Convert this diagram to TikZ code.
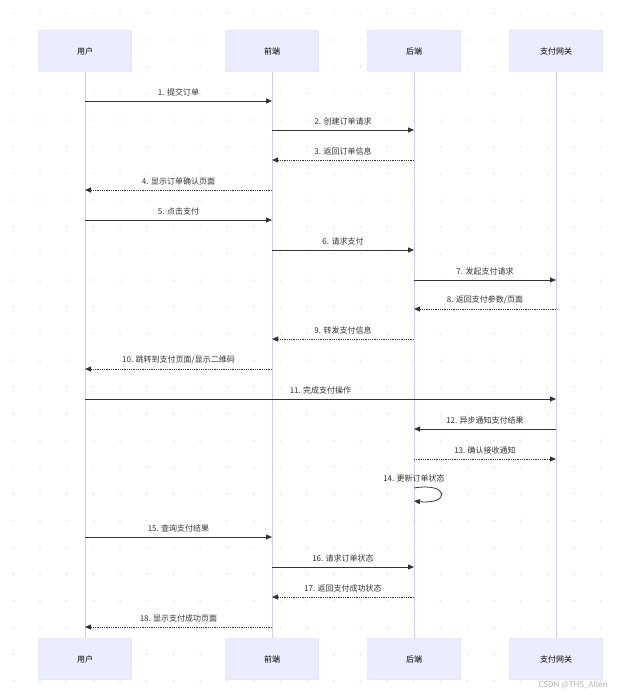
\documentclass[tikz,border=0pt]{standalone}
\usepackage{fontspec}
\setmainfont{Noto Sans CJK SC}
\usetikzlibrary{arrows.meta, positioning}
\definecolor{actfill}{HTML}{ECECFF}
\definecolor{actdraw}{HTML}{CFCFF5}
\definecolor{msgcol}{HTML}{333333}
\begin{document}
\begin{tikzpicture}[x=1pt, y=-1pt, >={Triangle[length=6pt,width=5pt]},
    actor/.style={rectangle, draw=actdraw, fill=actfill, rounded corners=1pt, minimum width=93pt, minimum height=41pt, font=\fontsize{8}{10}\selectfont},
    life/.style={draw=actdraw, thick},
    msg/.style={->, msgcol, thick},
    reply/.style={->, msgcol, thick, densely dotted},
    lbl/.style={font=\fontsize{8}{10}\selectfont, text=msgcol, above=1pt, midway}]

    \useasboundingbox (0,0) rectangle (623,695);
    \fill[white] (0,0) rectangle (623,695);
    % background dots
    \foreach \i in {0,...,23} \foreach \j in {0,...,26}
        \fill[gray!20] (13.3+26.7*\i, 13.3+26.7*\j) circle (1pt);

    % Actors
    \node (user) [actor] at (85,51) {用户};
    \node (front) [actor] at (272,51) {前端};
    \node (back) [actor] at (414,51) {后端};
    \node (gate) [actor] at (556,51) {支付网关};
    \node (user_b) [actor] at (85,659) {用户};
    \node (front_b) [actor] at (272,659) {前端};
    \node (back_b) [actor] at (414,659) {后端};
    \node (gate_b) [actor] at (556,659) {支付网关};

    % Lifelines
    \draw[life] (user) -- (user_b);
    \draw[life] (front) -- (front_b);
    \draw[life] (back) -- (back_b);
    \draw[life] (gate) -- (gate_b);

    % Messages
    \draw[msg] (85,101) -- (272,101) node[lbl] {1. 提交订单};
    \draw[msg] (272,130) -- (414,130) node[lbl] {2. 创建订单请求};
    \draw[reply] (414,160) -- (272,160) node[lbl] {3. 返回订单信息};
    \draw[reply] (272,190) -- (85,190) node[lbl] {4. 显示订单确认页面};
    \draw[msg] (85,220) -- (272,220) node[lbl] {5. 点击支付};
    \draw[msg] (272,250) -- (414,250) node[lbl] {6. 请求支付};
    \draw[msg] (414,280) -- (556,280) node[lbl] {7. 发起支付请求};
    \draw[reply] (556,309) -- (414,309) node[lbl] {8. 返回支付参数/页面};
    \draw[reply] (414,339) -- (272,339) node[lbl] {9. 转发支付信息};
    \draw[reply] (272,369) -- (85,369) node[lbl] {10. 跳转到支付页面/显示二维码};
    \draw[msg] (85,399) -- (556,399) node[lbl] {11. 完成支付操作};
    \draw[msg] (556,429) -- (414,429) node[lbl] {12. 异步通知支付结果};
    \draw[reply] (414,459) -- (556,459) node[lbl] {13. 确认接收通知};
    \node[font=\fontsize{8}{10}\selectfont, text=msgcol] (self_lbl) at (414,478) {14. 更新订单状态};
    \draw[msg] (414,488) .. controls (450,482) and (450,505) .. (414,501);
    \draw[msg] (85,537) -- (272,537) node[lbl] {15. 查询支付结果};
    \draw[msg] (272,567) -- (414,567) node[lbl] {16. 请求订单状态};
    \draw[reply] (414,597) -- (272,597) node[lbl] {17. 返回支付成功状态};
    \draw[reply] (272,627) -- (85,627) node[lbl] {18. 显示支付成功页面};

    \node[font=\fontsize{8}{10}\selectfont, text=gray!60] (mark) at (573,685) {CSDN @THS\_Allen};
\end{tikzpicture}
\end{document}
